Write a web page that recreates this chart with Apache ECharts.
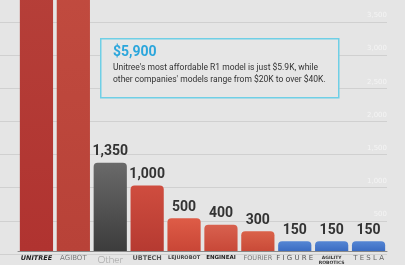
<!DOCTYPE html>
<html><head><meta charset="utf-8">
<script src="https://cdn.jsdelivr.net/npm/echarts@6/dist/echarts.min.js"></script>
<style>html,body{margin:0;padding:0;background:#e5e5e5;}#c{width:405px;height:265px;}</style>
</head><body><div id="c"></div>
<script>
const categories = ['UNITREE','AGIBOT','Other','UBTECH','LEJUROBOT','ENGINEAI','FOURIER','FIGURE','AGILITY','TESLA'];
const values = [5600, 5200, 1350, 1000, 500, 400, 300, 150, 150, 150];
const yTicks = [0, 500, 1000, 1500, 2000, 2500, 3000, 3500];
const noteTitle = '$5,900';
const noteLines = ["Unitree's most affordable R1 model is just $5.9K, while", "other companies' models range from $20K to over $40K."];

const barColors = [
  ['#b8443c','#b03330'],
  ['#c34d41','#b84238'],
  ['#6a6a6a','#3c3c3c'],
  ['#cf4d3f','#b63a31'],
  ['#de5c47','#c94636'],
  ['#d8614f','#c84838'],
  ['#da6249','#c94a38'],
  ['#5586d4','#3b6cc2'],
  ['#5586d4','#3b6cc2'],
  ['#5586d4','#3b6cc2']
];
const labelKeys = ['u','a','o','ub','lj','e','f','fg','ag','t'];
const labelText = ['UNITREE','AGIBOT','Other','UBTECH','LEJUROBOT','ENGINEAI','FOURIER','F I G U R E','AGILITY\nROBOTICS','T E S L A'];

const yMax = yTicks[yTicks.length-1];
const chart = echarts.init(document.getElementById('c'), null, {renderer:'canvas'});
const fmt = v => v.toLocaleString('en-US');

chart.setOption({
  backgroundColor: '#e5e5e5',
  animation: false,
  grid: [
    {left: 0, right: 18, top: 22, bottom: 11},
    {left: 18, right: 18, top: 22, bottom: 11}
  ],
  xAxis: [
    {gridIndex: 0, type: 'category', data: categories, show: false},
    {gridIndex: 1, type: 'category', data: categories,
     axisLine: {show: true, lineStyle: {color: '#8a8a8a', width: 1}},
     axisTick: {show: false},
     axisLabel: {
       interval: 0, margin: 4,
       formatter: (v, i) => '{' + labelKeys[i] + '|' + labelText[i] + '}',
       rich: {
         u: {fontSize: 6.5, fontWeight: 900, fontStyle: 'italic', color: '#1e1e1e', fontFamily: 'DejaVu Sans'},
         a: {fontSize: 7, color: '#7a7a7a', fontFamily: 'DejaVu Sans'},
         o: {fontSize: 10, color: '#9a9a9a', fontFamily: 'Lato', fontWeight: 300},
         ub: {fontSize: 6.5, color: '#555', fontWeight: 'bold', fontFamily: 'DejaVu Sans'},
         lj: {fontSize: 5, color: '#444', fontWeight: 'bold', fontFamily: 'DejaVu Sans'},
         e: {fontSize: 5.5, color: '#1e1e1e', fontWeight: 900, fontFamily: 'DejaVu Sans'},
         f: {fontSize: 6.5, color: '#777', fontFamily: 'DejaVu Sans'},
         fg: {fontSize: 7, color: '#555', fontFamily: 'DejaVu Sans'},
         ag: {fontSize: 4.5, color: '#333', fontWeight: 'bold', fontFamily: 'DejaVu Sans', lineHeight: 5},
         t: {fontSize: 7, color: '#666', fontFamily: 'DejaVu Sans'}
       }
     }}
  ],
  yAxis: [
    {gridIndex: 0, type: 'value', position: 'right', min: 0, max: yMax, interval: 500,
     axisLine: {show: false}, axisTick: {show: false},
     splitLine: {show: true, lineStyle: {color: '#d0d0d0', width: 1}},
     axisLabel: {inside: true, margin: 0, verticalAlign: 'bottom', align: 'right', padding: [0, 0, 3, 0],
       color: '#f4f4f4', fontSize: 7, fontFamily: 'DejaVu Sans',
       formatter: v => v === 0 ? '' : fmt(v)}},
    {gridIndex: 1, type: 'value', min: 0, max: yMax, interval: 500, show: false, splitLine: {show: false}}
  ],
  series: [{
    type: 'bar', xAxisIndex: 1, yAxisIndex: 1, clip: false,
    barCategoryGap: '10%',
    data: values.map((v, i) => ({
      value: v,
      itemStyle: {
        borderRadius: [4, 4, 0, 0],
        color: new echarts.graphic.LinearGradient(0, 0, 0, 1, [
          {offset: 0, color: barColors[i][0]}, {offset: 1, color: barColors[i][1]}])
      }
    })),
    label: {
      show: true, position: 'top', distance: 4,
      color: '#333', fontSize: 14, fontWeight: 'bold', fontFamily: 'Roboto',
      formatter: p => p.value > yMax ? '' : fmt(p.value)
    }
  }],
  graphic: [
    {type: 'rect', left: 100, top: 38, shape: {width: 238, height: 59},
     style: {fill: '#e6e6e6', stroke: '#6fcfe6', lineWidth: 1.5}, z: 10},
    {type: 'text', left: 113, top: 45, z: 11,
     style: {text: noteTitle, fill: '#2ba6dc', fontSize: 14, fontWeight: 'bold', fontFamily: 'Roboto'}},
    {type: 'text', left: 113, top: 62, z: 11,
     style: {text: noteLines.join('\n'), fill: '#333', fontSize: 8.5, lineHeight: 12, fontFamily: 'Roboto'}}
  ]
});
</script></body></html>
